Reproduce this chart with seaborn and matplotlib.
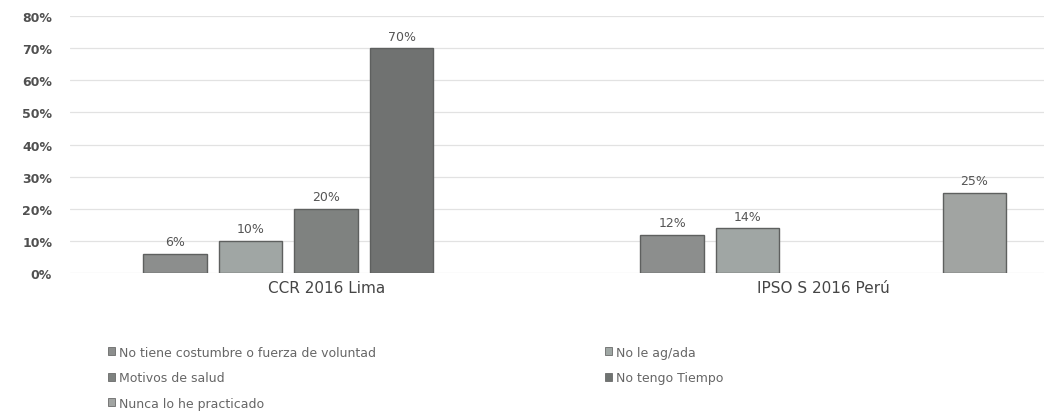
import pandas as pd
import matplotlib
matplotlib.use("Agg")
import matplotlib.pyplot as plt
import seaborn as sns


# Data
groups = ["CCR 2016 Lima", "IPSO S 2016 Perú"]
reasons = ["No tiene costumbre o fuerza de voluntad", "No le ag/ada",
           "Motivos de salud", "No tengo Tiempo", "Nunca lo he practicado"]
ccr_values = [6, 10, 20, 70, None]
ipsos_values = [12, 14, None, None, 25]
bar_colors = ["#8c8e8d", "#9fa7a4", "#7e8280", "#6f7371", "#a1a4a2"]

rows = []
for g, vals in zip(groups, [ccr_values, ipsos_values]):
    for r, v in zip(reasons, vals):
        if v is not None:
            rows.append({"grupo": g, "motivo": r, "valor": v})
df = pd.DataFrame(rows)


# -------------------------
# Plot
# -------------------------
sns.set_style("white")
plt.rcParams["font.family"] = ["DejaVu Sans"]

fig = plt.figure(figsize=(10.47, 4.14), dpi=100)
ax = fig.add_axes([0.067, 0.338, 0.93, 0.621])

sns.barplot(data=df, x="grupo", y="valor", hue="motivo", order=groups,
            hue_order=reasons, palette=bar_colors, width=0.76, gap=0.16,
            edgecolor="#5e605f", linewidth=1, ax=ax, legend=False)

for cont in ax.containers:
    ax.bar_label(cont, fmt="%d%%", padding=4, fontsize=9, color="#555555")

ax.set_ylim(0, 80)
ax.set_yticks(range(0, 81, 10))
ax.set_yticklabels([f"{t}%" for t in range(0, 81, 10)])
ax.set_xlim(-0.515, 1.444)
ax.yaxis.grid(True, color="#e2e2e2", linewidth=0.9)
ax.set_axisbelow(True)
ax.set_xlabel("")
ax.set_ylabel("")
sns.despine(ax=ax, left=True, bottom=True)
ax.tick_params(axis="y", length=0, pad=13, labelsize=9, labelcolor="#505050")
ax.tick_params(axis="x", length=0, pad=5, labelsize=11, labelcolor="#454545")
for lab in ax.get_yticklabels():
    lab.set_fontweight("bold")

# legend: two columns, left column holds 1st, 3rd and 5th reasons
handles = [plt.Rectangle((0, 0), 1, 1, facecolor=c, edgecolor="#6a6a6a", linewidth=0.6)
           for c in bar_colors]
order = [0, 2, 4, 1, 3]
fig.legend([handles[i] for i in order], [reasons[i] for i in order],
           ncol=2, loc="upper left", bbox_to_anchor=(0.092, 0.19),
           frameon=False, fontsize=9, labelcolor="#666666",
           handlelength=0.6, handleheight=0.6, handletextpad=0.3,
           columnspacing=18.3, labelspacing=1.0)

fig.savefig("out.png", dpi=100)
